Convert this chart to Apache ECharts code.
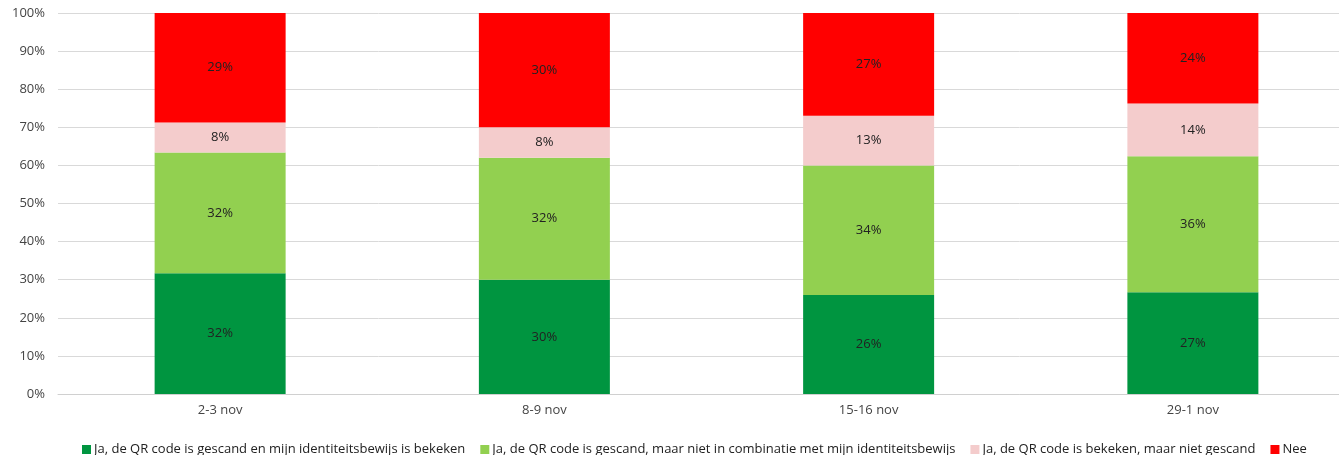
<!DOCTYPE html>
<html><head><meta charset="utf-8">
<script src="https://cdn.jsdelivr.net/npm/echarts@6/dist/echarts.min.js"></script>
<style>html,body{margin:0;padding:0;background:#fff}#c{width:1339px;height:455px}</style>
</head><body><div id="c"></div>
<script>
const categories = ['2-3 nov', '8-9 nov', '15-16 nov', '29-1 nov'];
const seriesNames = [
  'Ja, de QR code is gescand en mijn identiteitsbewijs is bekeken',
  'Ja, de QR code is gescand, maar niet in combinatie met mijn identiteitsbewijs',
  'Ja, de QR code is bekeken, maar niet gescand',
  'Nee'
];
const scannedWithId = [32, 30, 26, 27];
const scannedNoId = [32, 32, 34, 36];
const viewedNotScanned = [8, 8, 13, 14];
const no = [29, 30, 27, 24];
const yTicks = [0, 10, 20, 30, 40, 50, 60, 70, 80, 90, 100];

const colors = ['#009540', '#92D050', '#F4CCCC', '#FF0000'];
const raw = [scannedWithId, scannedNoId, viewedNotScanned, no];
const totals = categories.map((_, i) => raw.reduce((s, a) => s + a[i], 0));

const chart = echarts.init(document.getElementById('c'));
chart.setOption({
  animation: false,
  textStyle: { fontFamily: 'Open Sans' },
  grid: { left: 58, width: 1297, top: 13, height: 381, outerBoundsMode: 'none', containLabel: false },
  legend: {
    top: 438, left: 77,
    itemWidth: 9, itemHeight: 9, itemGap: 15,
    icon: 'rect',
    textStyle: { fontSize: 13, color: '#222', padding: [0, 0, 0, -2] },
    data: seriesNames
  },
  xAxis: {
    type: 'category', data: categories,
    axisLine: { lineStyle: { color: '#d0d0d0' } },
    axisTick: { show: false },
    axisLabel: { color: '#444', fontSize: 13, margin: 10 }
  },
  yAxis: {
    type: 'value', min: 0, max: 100, interval: 10,
    axisLabel: { color: '#444', fontSize: 13, formatter: v => v + '%', margin: 13 },
    splitLine: { lineStyle: { color: '#d9d9d9' } },
    axisLine: { show: false }, axisTick: { show: false }
  },
  series: raw.map((arr, si) => ({
    name: seriesNames[si],
    type: 'bar', stack: 'total', barWidth: 131,
    itemStyle: { color: colors[si] },
    label: {
      show: true, position: 'inside', color: '#222', fontSize: 13,
      formatter: p => arr[p.dataIndex] + '%'
    },
    data: arr.map((v, i) => v / totals[i] * 100)
  }))
});
</script></body></html>
